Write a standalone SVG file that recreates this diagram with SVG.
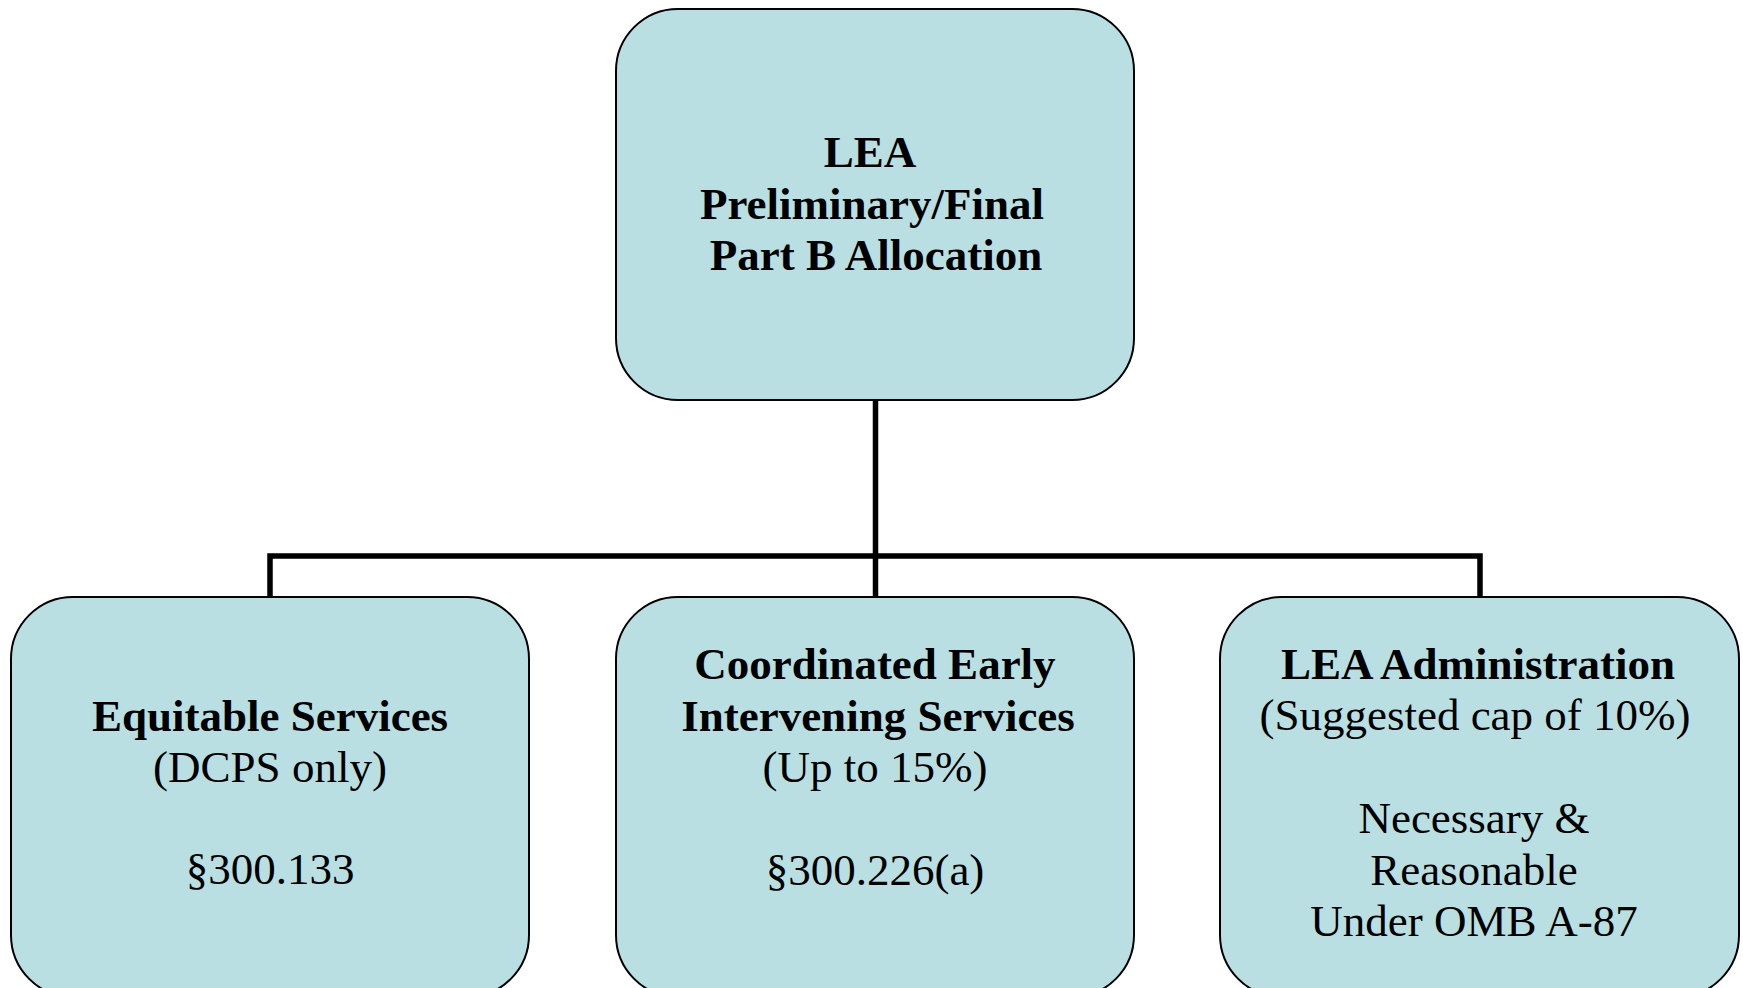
<svg xmlns="http://www.w3.org/2000/svg" width="1743" height="988" viewBox="0 0 1743 988">
<style>
.box{fill:#B9DFE3;stroke:#000;stroke-width:2}
.conn{fill:none;stroke:#000;stroke-width:5.5;stroke-linejoin:miter}
text{font-family:"Liberation Serif","Times New Roman",serif;font-size:45px;fill:#000;text-anchor:middle}
.b{font-weight:bold}
</style>
<rect width="1743" height="988" fill="#fff"/>
<g id="connectors">
<path class="conn" d="M875.5 400 V556"/>
<path class="conn" d="M270 597 V556 H1480 V597"/>
<path class="conn" d="M875.5 556 V597"/>
</g>
<g id="node-top">
<rect class="box" x="616" y="9" width="518" height="391" rx="62" ry="62"/>
<text class="b" x="870" y="167">LEA</text>
<text class="b" x="872" y="219">Preliminary/Final</text>
<text class="b" x="876" y="270">Part B Allocation</text>
</g>
<g id="node-equitable">
<rect class="box" x="11" y="597" width="518" height="400" rx="62" ry="62"/>
<text class="b" x="270" y="731">Equitable Services</text>
<text x="270" y="782">(DCPS only)</text>
<text x="270" y="884">§300.133</text>
</g>
<g id="node-ceis">
<rect class="box" x="616" y="597" width="518" height="400" rx="62" ry="62"/>
<text class="b" x="875" y="679">Coordinated Early</text>
<text class="b" x="878" y="731">Intervening Services</text>
<text x="875" y="782">(Up to 15%)</text>
<text x="875" y="885">§300.226(a)</text>
</g>
<g id="node-admin">
<rect class="box" x="1220" y="597" width="519" height="400" rx="62" ry="62"/>
<text class="b" x="1478" y="679">LEA Administration</text>
<text x="1475" y="730">(Suggested cap of 10%)</text>
<text x="1474" y="833">Necessary &amp;</text>
<text x="1474" y="885">Reasonable</text>
<text x="1474" y="936">Under OMB A-87</text>
</g>
</svg>
